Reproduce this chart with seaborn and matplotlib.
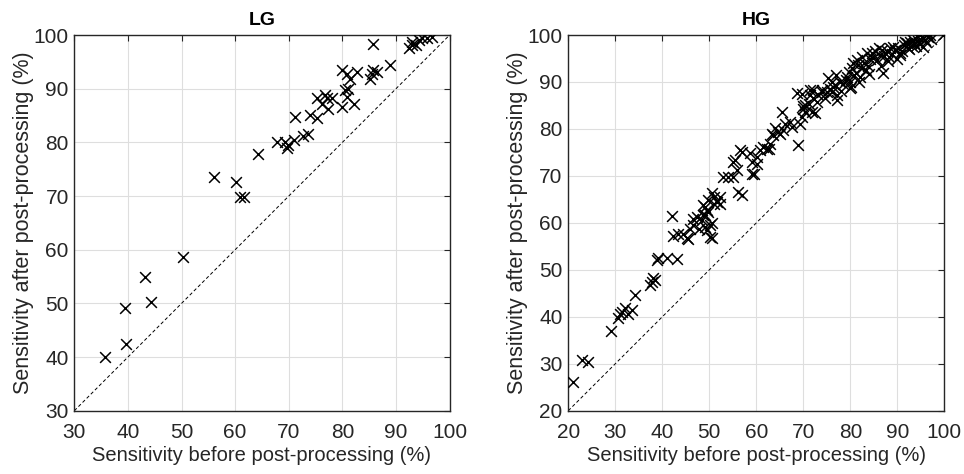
import numpy as np
import pandas as pd
import matplotlib
matplotlib.use("Agg")
import matplotlib.pyplot as plt
import seaborn as sns

# ---------------- data ----------------
lg_before = [35.7, 39.6, 39.5, 43.2, 44.3, 50.3, 56.1, 60.2, 60.9, 61.7,
             64.3, 67.8, 69.3, 69.9, 70.9, 69.6, 72.7, 73.5, 71.2, 74.0,
             75.2, 75.2, 76.2, 76.8, 77.4, 77.1, 78.0, 79.9, 80.8, 80.5,
             81.1, 82.1, 79.9, 80.8, 82.7, 81.4, 85.2, 85.8, 86.4, 85.5,
             88.9, 85.8, 92.4, 93.0, 93.7, 94.9, 95.8, 96.7, 93.0, 94.2]
lg_after = [40.0, 42.5, 49.2, 55.0, 50.2, 58.6, 73.5, 72.6, 69.9, 69.9,
            77.9, 80.1, 80.1, 79.5, 80.4, 79.0, 81.2, 81.5, 84.7, 85.1,
            84.5, 88.2, 87.2, 88.8, 86.3, 88.2, 88.2, 86.6, 88.5, 89.7,
            90.0, 87.2, 93.4, 92.8, 93.1, 91.9, 91.9, 93.4, 93.1, 92.8,
            94.4, 98.4, 97.5, 98.7, 98.1, 99.4, 99.4, 99.6, 98.1, 99.0]

hg_before = [20.9, 22.9, 24.1, 29.0, 30.6, 31.4, 32.1, 32.8, 33.5, 31.0,
             34.2, 37.4, 38.1, 37.7, 38.4, 38.8, 39.1, 40.9, 43.1, 42.0,
             42.3, 43.4, 44.5, 45.2, 45.9, 46.6, 47.3, 48.4, 49.1, 49.8,
             50.1, 50.1, 49.4, 47.7, 45.5, 50.5, 49.1, 50.9, 52.3, 46.6,
             49.1, 50.5, 48.7, 49.4, 49.8, 50.9, 51.6, 52.3, 50.5, 48.7,
             53.0, 54.0, 55.1, 55.8, 55.1, 56.9, 56.2, 56.9, 59.0, 59.0,
             60.1, 60.8, 61.5, 62.6, 62.9, 63.6, 64.7, 65.7, 68.9,
             56.5, 55.5, 58.7, 59.4, 60.1, 62.2, 63.3, 64.0, 65.0, 65.4,
             66.1, 67.2, 67.5, 69.3, 69.7, 70.0, 70.4, 69.7, 71.1, 71.8,
             72.5, 72.1, 71.4, 73.2, 73.9, 75.0, 75.7, 76.7, 77.1,
             68.6, 70.0, 70.4, 71.4, 72.1, 73.9, 75.3, 76.0, 76.4, 77.1,
             77.8, 79.2, 79.6, 80.3, 79.9, 80.6, 81.4, 81.7, 82.4, 83.5,
             84.6, 85.3, 86.0, 87.0, 87.7, 88.4, 89.1, 89.9, 90.6, 91.3,
             92.0, 92.7, 93.4, 94.1, 94.8, 95.5, 96.3, 97.0, 95.5, 99.8,
             78.5, 79.0, 80.0, 80.8, 81.2, 82.0, 82.5, 83.0, 83.8, 84.2,
             84.9, 85.6, 86.4, 86.8, 87.2, 88.0, 88.8, 89.4, 90.2, 90.9,
             91.6, 92.3, 93.0, 93.6, 94.3, 94.8, 95.2, 95.9, 96.5, 97.1,
             83.3, 81.9, 80.2, 78.1, 84.0, 86.5, 88.2, 90.5, 92.5, 94.0,
             96.0, 77.0, 74.5, 73.0, 76.0]
hg_after = [26.2, 30.8, 30.4, 37.0, 39.7, 41.1, 41.8, 40.7, 41.4, 40.7,
            44.6, 46.7, 48.2, 47.4, 47.8, 52.2, 52.6, 52.6, 52.4, 61.4,
            57.2, 57.7, 57.7, 56.7, 58.8, 59.5, 61.3, 60.6, 61.6, 62.3,
            59.5, 57.0, 58.4, 58.8, 56.5, 56.7, 63.4, 64.1, 64.1, 60.9,
            59.1, 59.9, 61.6, 62.7, 64.8, 65.5, 64.5, 65.5, 66.3, 63.8,
            69.8, 69.8, 69.8, 71.2, 73.0, 75.1, 66.6, 65.9, 70.5, 73.0,
            74.0, 75.5, 76.2, 75.8, 76.9, 78.7, 79.4, 79.7, 76.5,
            75.5, 73.3, 74.8, 70.5, 72.6, 75.8, 79.0, 80.1, 79.0, 83.6,
            81.1, 81.5, 80.4, 81.1, 82.6, 84.3, 85.0, 87.5, 85.4, 83.6,
            83.3, 86.5, 88.2, 87.2, 87.9, 87.9, 88.6, 89.3, 87.2,
            87.6, 84.8, 83.7, 87.2, 88.3, 88.3, 90.8, 90.1, 89.0, 86.2,
            90.1, 91.1, 92.2, 92.9, 88.7, 94.0, 94.7, 93.6, 95.4, 96.1,
            96.1, 96.5, 97.2, 91.9, 96.5, 97.2, 97.5, 95.0, 95.7, 97.9,
            98.2, 98.6, 98.9, 99.7, 100.0, 99.3, 100.0, 100.0, 97.5, 100.0,
            89.5, 90.5, 90.0, 91.5, 92.0, 91.0, 93.0, 94.0, 93.5, 94.8,
            95.2, 94.6, 95.8, 96.9, 95.5, 94.5, 96.0, 96.8, 97.3, 96.5,
            98.6, 97.2, 97.7, 98.3, 98.8, 98.0, 99.5, 99.0, 99.6, 99.1,
            92.5, 90.0, 89.0, 88.0, 91.8, 93.4, 95.3, 96.2, 97.0, 97.6,
            98.6, 91.5, 86.5, 85.8, 87.8]

titles = ["LG", "HG"]
limits = [(30, 100), (20, 100)]
xlabel = "Sensitivity before post-processing (%)"
ylabel = "Sensitivity after post-processing (%)"

# ---------------- style ----------------
sns.set_style("white")
plt.rcParams["font.family"] = ["Liberation Sans", "DejaVu Sans"]
dark = (0.15, 0.15, 0.15)

fig = plt.figure(figsize=(9.64, 4.74), dpi=100)
ax_l = fig.add_axes([0.0771, 0.1335, 0.3893, 0.7926])
ax_r = fig.add_axes([0.5895, 0.1335, 0.3902, 0.7926])

datasets = [pd.DataFrame({"before": lg_before, "after": lg_after}),
            pd.DataFrame({"before": hg_before, "after": hg_after})]

for ax, df, title, (lo, hi) in zip([ax_l, ax_r], datasets, titles, limits):
    sns.scatterplot(data=df, x="before", y="after", ax=ax, marker="x",
                    color="black", s=60, linewidth=1.1, zorder=3, legend=False)
    ax.plot([lo, hi], [lo, hi], linestyle=(0, (3.5, 2.5)), color="black",
            linewidth=0.7, zorder=2)
    ax.set_xlim(lo, hi)
    ax.set_ylim(lo, hi)
    ticks = np.arange(lo, hi + 1, 10)
    ax.set_xticks(ticks)
    ax.set_yticks(ticks)
    ax.grid(True, color=(0.87, 0.87, 0.87), linewidth=0.8, zorder=0)
    ax.set_axisbelow(True)
    ax.tick_params(direction="in", length=4, width=0.8, colors=dark,
                   labelsize=15, top=True, right=True, labelcolor=dark)
    ax.tick_params(axis="x", pad=8.5)
    ax.tick_params(axis="y", pad=4)
    for sp in ax.spines.values():
        sp.set_visible(True)
        sp.set_color(dark)
        sp.set_linewidth(1.0)
    ax.set_xlabel(xlabel, fontsize=14.5, color=dark, labelpad=3)
    ax.set_ylabel(ylabel, fontsize=15.5, color=dark, labelpad=0)
    ax.set_title(title, fontsize=14, fontweight="bold", color="black", pad=7)

fig.savefig("out.png", dpi=100)
